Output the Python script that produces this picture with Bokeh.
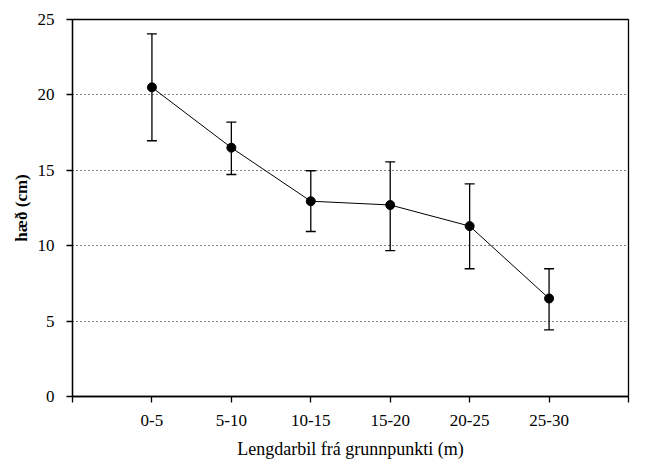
from bokeh.plotting import figure
from bokeh.models import ColumnDataSource, Whisker, TeeHead, FixedTicker, Range1d
from bokeh.embed import file_html
from bokeh.resources import INLINE

categories = ["0-5", "5-10", "10-15", "15-20", "20-25", "25-30"]
means = [20.5, 16.5, 12.95, 12.7, 11.3, 6.5]
upper = [24.05, 18.2, 14.97, 15.56, 14.1, 8.47]
lower = [16.96, 14.72, 10.94, 9.68, 8.47, 4.42]
y_ticks = [0, 5, 10, 15, 20, 25]

xpos = list(range(1, len(categories) + 1))
src = ColumnDataSource(dict(x=xpos, y=means, upper=upper, lower=lower))

FONT = "Liberation Serif"

p = figure(width=651, height=465, output_backend="svg", toolbar_location=None,
           x_range=Range1d(0, len(categories) + 1), y_range=Range1d(0, 25),
           min_border_left=72, min_border_right=23, min_border_top=19, min_border_bottom=69)
p.frame_width = 556
p.frame_height = 377

p.outline_line_color = "black"
p.outline_line_width = 1.3
p.background_fill_color = "white"
p.border_fill_color = "white"

# grid
p.xgrid.grid_line_color = None
p.ygrid.grid_line_color = "black"
p.ygrid.grid_line_dash = "1 3"
p.ygrid.grid_line_width = 1

# x axis
p.xaxis.ticker = FixedTicker(ticks=list(range(0, len(categories) + 2)))
overrides = {0: "", len(categories) + 1: ""}
for i, c in enumerate(categories):
    overrides[i + 1] = c
p.xaxis.major_label_overrides = overrides
p.xaxis.axis_label = "Lengdarbil frá grunnpunkti (m)"

# y axis
p.yaxis.ticker = FixedTicker(ticks=y_ticks)
p.yaxis.axis_label = "hæð (cm)"

for ax in (p.xaxis, p.yaxis):
    ax.axis_line_color = "black"
    ax.axis_line_width = 1.3
    ax.major_tick_line_color = "black"
    ax.major_tick_line_width = 1.3
    ax.major_tick_in = 0
    ax.major_tick_out = 6
    ax.minor_tick_line_color = None
    ax.major_label_text_font = FONT
    ax.major_label_text_font_size = "17px"
    ax.major_label_text_color = "black"
    ax.axis_label_text_font = FONT
    ax.axis_label_text_font_size = "17px"
    ax.axis_label_text_color = "black"

p.xaxis.axis_label_text_font_size = "18px"
p.xaxis.axis_label_text_font_style = "normal"
p.yaxis.axis_label_text_font_style = "bold"
p.xaxis.major_label_standoff = 12
p.xaxis.axis_label_standoff = 10
p.yaxis.major_label_standoff = 12
p.yaxis.axis_label_standoff = 4

# error bars
w = Whisker(source=src, base="x", upper="upper", lower="lower", dimension="height",
            line_color="black", line_width=1.3,
            upper_head=TeeHead(size=10, line_color="black", line_width=1.3),
            lower_head=TeeHead(size=10, line_color="black", line_width=1.3))
p.add_layout(w)

p.line("x", "y", source=src, line_color="black", line_width=1)
p.scatter("x", "y", source=src, size=9, fill_color="black", line_color="black")

open("out.html", "w").write(file_html(p, INLINE))
